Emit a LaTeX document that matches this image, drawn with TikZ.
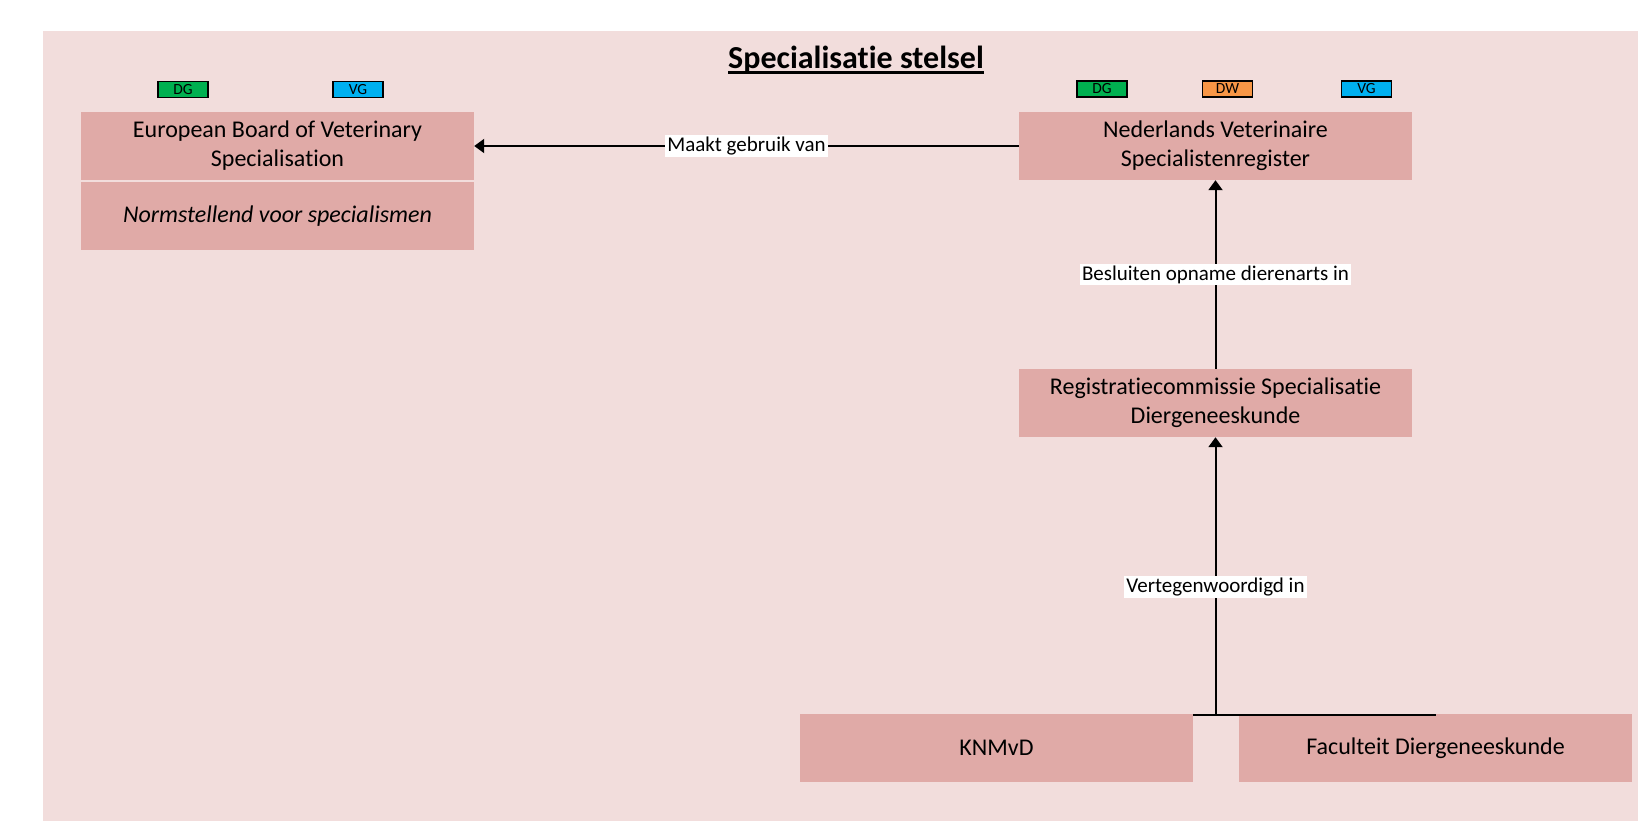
\documentclass[tikz,border=0pt]{standalone}
\usepackage{fontspec}
\setmainfont{Carlito}[Ligatures=NoCommon]
\usetikzlibrary{arrows.meta}
\definecolor{bgpink}{HTML}{F2DDDC}
\definecolor{boxpink}{HTML}{E0AAA7}
\definecolor{dggreen}{HTML}{00B050}
\definecolor{dworange}{HTML}{F79646}
\definecolor{vgblue}{HTML}{00B0F0}
\tikzset{
  orgbox/.style={fill=boxpink, draw=none, minimum width=393pt, minimum height=68pt, inner sep=0pt, align=center, font=\fontsize{24}{29}\selectfont},
  badge/.style={draw=black, line width=1.5pt, minimum width=50pt, minimum height=16pt, inner sep=0pt, font=\fontsize{15.5}{15.5}\selectfont},
  conn/.style={line width=2pt, draw=black},
  arr/.style={conn, -{Triangle[length=10pt,width=14pt]}},
  lbl/.style={fill=white, inner sep=2pt, font=\fontsize{21}{24}\selectfont}
}
\begin{document}
\begin{tikzpicture}[x=1pt,y=-1pt]
\useasboundingbox (0,0) rectangle (1638,821);
\fill[bgpink] (43,31) rectangle (1638,821);
\node[font=\fontsize{32}{34}\selectfont\bfseries, anchor=base, inner sep=0pt] (title) at (856,69) {Specialisatie stelsel};
\draw[line width=2.5pt] ([yshift=-3.5pt]title.base west) -- ([yshift=-3.5pt]title.base east);
% left
\node[orgbox] (ebvs) at (277.5,146) {European Board of Veterinary\\Specialisation};
\node[orgbox] (ebvsnorm) at (277.5,216) {\itshape Normstellend voor specialismen};
\node[badge, fill=dggreen] (bdg1) at (183,89.5) {DG};
\node[badge, fill=vgblue] (bvg1) at (358,89.5) {VG};
% right
\node[orgbox] (nvs) at (1215.5,146) {Nederlands Veterinaire\\Specialistenregister};
\node[badge, fill=dggreen] (bdg2) at (1102,89) {DG};
\node[badge, fill=dworange] (bdw2) at (1227.5,89) {DW};
\node[badge, fill=vgblue] (bvg2) at (1366.5,89) {VG};
\node[orgbox] (rsd) at (1215.5,403) {Registratiecommissie Specialisatie\\Diergeneeskunde};
\node[orgbox] (knmvd) at (996.5,748) {KNMvD};
\node[orgbox] (fac) at (1435.5,748) {Faculteit Diergeneeskunde};
% connectors
\draw[arr] (nvs.west) -- node[lbl] {Maakt gebruik van} (ebvs.east);
\draw[arr] (rsd.north) -- node[lbl] {Besluiten opname dierenarts in} (nvs.south);
\coordinate (j) at ([yshift=-1pt]rsd.south |- knmvd.north);
\draw[conn] ([yshift=-1pt]knmvd.north east) -- ([yshift=-1pt]fac.north);
\draw[arr] (j) -- node[lbl, pos=0.46] {Vertegenwoordigd in} (rsd.south);
\end{tikzpicture}
\end{document}
